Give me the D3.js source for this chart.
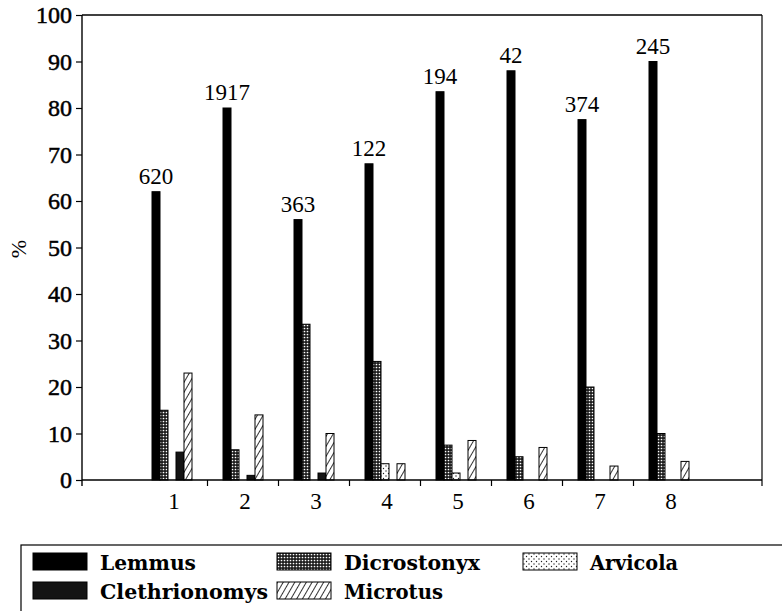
<!DOCTYPE html>
<html>
<head>
<meta charset="utf-8">
<script src="https://cdn.jsdelivr.net/npm/d3@7"></script>
<style>
  body { margin: 0; background: #fff; }
  svg { display: block; }
  .serif { font-family: "Liberation Serif", "Times New Roman", Times, serif; }
  .legend-text { font-family: "DejaVu Serif", Georgia, serif; font-weight: bold; }
</style>
</head>
<body>
<div id="chart"></div>
<script>
// chart data
var groups = ["1", "2", "3", "4", "5", "6", "7", "8"];
var sampleSizes = [620, 1917, 363, 122, 194, 42, 374, 245];
var species = ["Lemmus", "Dicrostonyx", "Arvicola", "Clethrionomys", "Microtus"];
var lemmus        = [62, 80, 56, 68, 83.5, 88, 77.5, 90];
var dicrostonyx   = [15, 6.5, 33.5, 25.5, 7.5, 5, 20, 10];
var arvicola      = [0, 0, 0, 3.5, 1.5, 0, 0, 0];
var clethrionomys = [6, 1, 1.5, 0, 0, 0, 0, 0];
var microtus      = [23, 14, 10, 3.5, 8.5, 7, 3, 4];
var yTicks = [0, 10, 20, 30, 40, 50, 60, 70, 80, 90, 100];

var seriesValues = {
  Lemmus: lemmus,
  Dicrostonyx: dicrostonyx,
  Arvicola: arvicola,
  Clethrionomys: clethrionomys,
  Microtus: microtus
};

var width = 782, height = 611;
var plot = {left: 82, right: 762, top: 15, bottom: 480};

var svg = d3.select("#chart").append("svg")
    .attr("width", width)
    .attr("height", height);

// patterns for the bar fills
var defs = svg.append("defs");

var pDicro = defs.append("pattern")
    .attr("id", "p-dicro")
    .attr("patternUnits", "userSpaceOnUse")
    .attr("width", 3).attr("height", 3);
pDicro.append("rect").attr("width", 3).attr("height", 3).attr("fill", "#1e1e1e");
pDicro.append("circle").attr("cx", 1.5).attr("cy", 1.5).attr("r", 0.85).attr("fill", "#fff");

var pArvi = defs.append("pattern")
    .attr("id", "p-arvi")
    .attr("patternUnits", "userSpaceOnUse")
    .attr("width", 5).attr("height", 5);
pArvi.append("rect").attr("width", 5).attr("height", 5).attr("fill", "#fff");
pArvi.append("circle").attr("cx", 1).attr("cy", 1).attr("r", 0.7).attr("fill", "#222");
pArvi.append("circle").attr("cx", 3.5).attr("cy", 3.5).attr("r", 0.7).attr("fill", "#222");

var pMicro = defs.append("pattern")
    .attr("id", "p-micro")
    .attr("patternUnits", "userSpaceOnUse")
    .attr("width", 5).attr("height", 5)
    .attr("patternTransform", "rotate(30)");
pMicro.append("rect").attr("width", 5).attr("height", 5).attr("fill", "#fff");
pMicro.append("line").attr("x1", 0).attr("y1", 0).attr("x2", 0).attr("y2", 5)
    .attr("stroke", "#000").attr("stroke-width", 1.6);

var fills = {
  Lemmus: "#000",
  Dicrostonyx: "url(#p-dicro)",
  Arvicola: "url(#p-arvi)",
  Clethrionomys: "#141414",
  Microtus: "url(#p-micro)"
};

// scales
var x0 = d3.scaleBand()
    .domain(groups)
    .range([136.5, 704.5])
    .padding(0);

var x1 = d3.scaleBand()
    .domain(species)
    .range([0, 40]);

var groupOffset = (x0.bandwidth() - 40) / 2;

var y = d3.scaleLinear()
    .domain([0, 100])
    .range([plot.bottom, plot.top]);

// frame: top and right lines
svg.append("line")
    .attr("x1", plot.left).attr("x2", plot.right)
    .attr("y1", plot.top).attr("y2", plot.top)
    .attr("stroke", "#000").attr("stroke-width", 1.4);
svg.append("line")
    .attr("x1", plot.right).attr("x2", plot.right)
    .attr("y1", plot.top).attr("y2", plot.bottom + 6)
    .attr("stroke", "#000").attr("stroke-width", 1.2);

// bars
var rows = [];
groups.forEach(function(g, i) {
  species.forEach(function(s) {
    var v = seriesValues[s][i];
    if (v > 0) rows.push({group: g, species: s, value: v});
  });
});

svg.append("g")
  .selectAll("rect")
  .data(rows)
  .enter().append("rect")
    .attr("x", function(d) { return x0(d.group) + groupOffset + x1(d.species); })
    .attr("y", function(d) { return y(d.value); })
    .attr("width", x1.bandwidth())
    .attr("height", function(d) { return y(0) - y(d.value); })
    .attr("fill", function(d) { return fills[d.species]; })
    .attr("stroke", "#000")
    .attr("stroke-width", 1);

// sample sizes above the Lemmus bars
svg.append("g")
  .selectAll("text")
  .data(groups)
  .enter().append("text")
    .attr("class", "serif")
    .attr("x", function(d) { return x0(d) + groupOffset + x1("Lemmus") + x1.bandwidth() / 2; })
    .attr("y", function(d, i) { return y(lemmus[i]) - 8; })
    .attr("text-anchor", "middle")
    .attr("font-size", 23)
    .text(function(d, i) { return sampleSizes[i]; });

// y axis
var yAxis = svg.append("g")
    .attr("transform", "translate(" + plot.left + ",0)")
    .call(d3.axisLeft(y).tickValues(yTicks).tickSize(6).tickPadding(4));
yAxis.attr("font-family", null).attr("font-size", null);
yAxis.select(".domain").attr("d", "M0," + plot.top + "V" + (plot.bottom + 6))
    .attr("stroke-width", 1.4);
yAxis.selectAll("line").attr("stroke-width", 1.2);
yAxis.selectAll("text")
    .attr("class", "serif")
    .attr("font-size", 24)
    .attr("fill", "#000")
    .style("stroke", "#000")
    .style("stroke-width", 0.5);

// x axis: ticks between groups, labels at group centres
var xAxis = svg.append("g")
    .attr("transform", "translate(0," + plot.bottom + ")");
xAxis.append("line")
    .attr("x1", plot.left).attr("x2", plot.right)
    .attr("stroke", "#000").attr("stroke-width", 1.4);
xAxis.selectAll(".tick")
  .data(groups.slice(1))
  .enter().append("line")
    .attr("class", "tick")
    .attr("x1", function(d) { return x0(d); })
    .attr("x2", function(d) { return x0(d); })
    .attr("y1", 0).attr("y2", 6)
    .attr("stroke", "#000").attr("stroke-width", 1.2);
xAxis.selectAll(".lbl")
  .data(groups)
  .enter().append("text")
    .attr("class", "lbl serif")
    .attr("x", function(d) { return x0(d) + x0.bandwidth() / 2 + 2; })
    .attr("y", 29)
    .attr("text-anchor", "middle")
    .attr("font-size", 23)
    .text(function(d) { return d; });

// y label
svg.append("text")
    .attr("class", "serif")
    .attr("transform", "translate(18,249) rotate(-90)")
    .attr("text-anchor", "middle")
    .attr("dy", "0.35em")
    .attr("font-size", 22)
    .text("%");

// legend
var legend = svg.append("g");
legend.append("rect")
    .attr("x", 21).attr("y", 545)
    .attr("width", 800).attr("height", 100)
    .attr("fill", "none")
    .attr("stroke", "#000").attr("stroke-width", 1.2);

var legendCols = [33, 277, 523];
var legendRows = [553, 582];
var legendPos = {
  Lemmus: [0, 0], Dicrostonyx: [1, 0], Arvicola: [2, 0],
  Clethrionomys: [0, 1], Microtus: [1, 1]
};

var item = legend.selectAll(".item")
  .data(species)
  .enter().append("g")
    .attr("class", "item")
    .attr("transform", function(d) {
      return "translate(" + legendCols[legendPos[d][0]] + "," + legendRows[legendPos[d][1]] + ")";
    });
item.append("rect")
    .attr("width", 54).attr("height", 17)
    .attr("fill", function(d) { return fills[d]; })
    .attr("stroke", "#000").attr("stroke-width", 1);
item.append("text")
    .attr("class", "legend-text")
    .attr("x", 67).attr("y", 17)
    .attr("font-size", 21)
    .attr("textLength", function(d) { return {Lemmus: 96, Dicrostonyx: 136, Arvicola: 88, Clethrionomys: 168, Microtus: 99}[d]; })
    .attr("lengthAdjust", "spacingAndGlyphs")
    .text(function(d) { return d; });
</script>
</body>
</html>
